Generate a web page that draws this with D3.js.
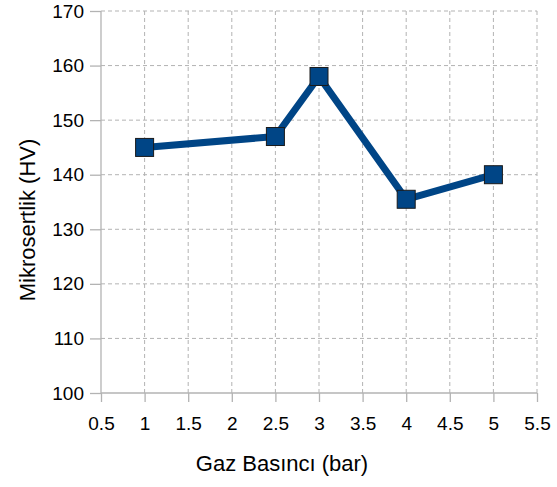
<!DOCTYPE html>
<html><head><meta charset="utf-8">
<script src="https://cdn.jsdelivr.net/npm/d3@7"></script>
<style>body{margin:0;background:#fff}</style>
</head><body>
<svg id="c" width="557" height="487"></svg>
<script>
const pressures = [1, 2.5, 3, 4, 5];
const hardness = [145, 147, 158, 135.5, 140];
const xTicks = [0.5, 1, 1.5, 2, 2.5, 3, 3.5, 4, 4.5, 5, 5.5];
const yTicks = [100, 110, 120, 130, 140, 150, 160, 170];
const xTitle = "Gaz Basıncı (bar)";
const yTitle = "Mikrosertlik (HV)";

const svg = d3.select("#c");
const font = "'Liberation Sans', Arial, sans-serif";
const L = 101, R = 537, T = 11, B = 393;
const x = d3.scaleLinear().domain([0.5, 5.5]).range([L, R]);
const y = d3.scaleLinear().domain([100, 170]).range([B, T]);
const grid = "#b3b3b3";

// grid
svg.append("g").selectAll("line").data(yTicks.slice(1)).join("line")
  .attr("x1", L).attr("x2", R).attr("y1", d => y(d)).attr("y2", d => y(d))
  .attr("stroke", grid).attr("stroke-dasharray", "4,3");
svg.append("g").selectAll("line").data(xTicks.slice(1)).join("line")
  .attr("y1", T).attr("y2", B).attr("x1", d => x(d)).attr("x2", d => x(d))
  .attr("stroke", grid).attr("stroke-dasharray", "4,3");

// axes
const ya = svg.append("g").attr("transform", `translate(${L},0)`)
  .call(d3.axisLeft(y).tickValues(yTicks).tickSize(11).tickPadding(6));
const xa = svg.append("g").attr("transform", `translate(0,${B})`)
  .call(d3.axisBottom(x).tickValues(xTicks).tickSize(9).tickPadding(15).tickFormat(d3.format("")));
[ya, xa].forEach(a => {
  a.selectAll("path,line").attr("stroke", grid).attr("stroke-width", 1.3);
  a.selectAll("text").attr("font-family", font).attr("font-size", 19).attr("fill", "#000");
});
ya.select(".domain").attr("d", `M0,${B}V${T}`);
xa.select(".domain").attr("d", `M${L},0H${R}`);

// line
const pts = pressures.map((p, i) => [p, hardness[i]]);
svg.append("path").datum(pts)
  .attr("d", d3.line().x(d => x(d[0])).y(d => y(d[1])))
  .attr("fill", "none").attr("stroke", "#004586").attr("stroke-width", 7)
  .attr("stroke-linejoin", "round");
const s = 18;
svg.append("g").selectAll("rect").data(pts).join("rect")
  .attr("x", d => x(d[0]) - s/2).attr("y", d => y(d[1]) - s/2)
  .attr("width", s).attr("height", s)
  .attr("fill", "#004586").attr("stroke", "#1a1a1a").attr("stroke-width", 1);

// titles
svg.append("text").attr("x", 282).attr("y", 471).attr("text-anchor", "middle")
  .attr("font-family", font).attr("font-size", 22).text(xTitle);
svg.append("text").attr("transform", `translate(35,220) rotate(-90)`)
  .attr("text-anchor", "middle").attr("font-family", font).attr("font-size", 22).text(yTitle);
</script>
</body></html>
